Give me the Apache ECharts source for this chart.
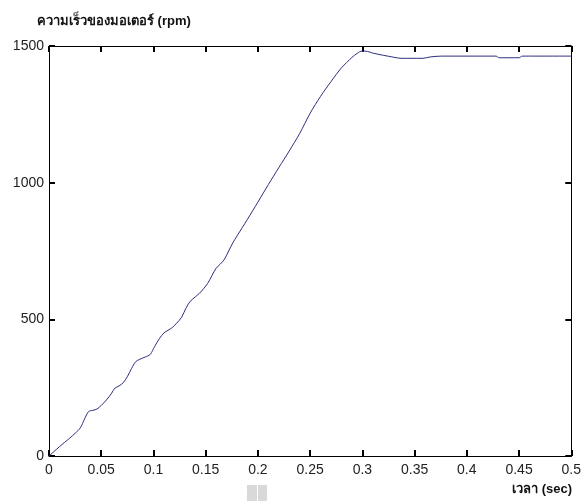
<!DOCTYPE html>
<html>
<head>
<meta charset="utf-8">
<script src="https://cdn.jsdelivr.net/npm/echarts@6/dist/echarts.min.js"></script>
<style>
  html, body { margin: 0; padding: 0; background: #fff; }
  #chart { width: 584px; height: 501px; }
</style>
</head>
<body>
<div id="chart"></div>
<script>
// Motor speed response (rpm) against time (s)
const timeSec = [
  0, 0.005, 0.010, 0.015, 0.020, 0.025, 0.030, 0.034, 0.038, 0.042, 0.046,
  0.050, 0.055, 0.060, 0.063, 0.067, 0.071, 0.075, 0.079, 0.083, 0.087,
  0.092, 0.097, 0.101, 0.106, 0.110, 0.114, 0.118, 0.122, 0.127, 0.131,
  0.135, 0.140, 0.144, 0.148, 0.152, 0.156, 0.160, 0.164, 0.168, 0.172,
  0.176, 0.180, 0.190, 0.200, 0.210, 0.220, 0.230, 0.240, 0.250, 0.260,
  0.270, 0.280, 0.290, 0.295, 0.300, 0.305, 0.310, 0.320, 0.330, 0.337,
  0.358, 0.365, 0.376, 0.428, 0.431, 0.450, 0.453, 0.500
];
const speedRpm = [
  0, 17, 34, 50, 66, 83, 103, 135, 163, 167, 172,
  185, 205, 230, 248, 256, 268, 290, 320, 345, 354,
  362, 372, 400, 431, 450, 460, 470, 485, 508, 540,
  565, 582, 595, 612, 632, 660, 687, 702, 720, 750,
  780, 805, 866, 929, 993, 1055, 1116, 1180, 1254, 1316,
  1370, 1420, 1458, 1473, 1482, 1480, 1474, 1466, 1459, 1455,
  1455, 1460, 1463, 1463, 1457, 1457, 1463, 1463
];
const xTicks = [0, 0.05, 0.1, 0.15, 0.2, 0.25, 0.3, 0.35, 0.4, 0.45, 0.5];
const yTicks = [0, 500, 1000, 1500];

const yTitle = 'ความเร็วของมอเตอร์ (rpm)';
const xTitle = 'เวลา (sec)';

const chart = echarts.init(document.getElementById('chart'));

const FONT = 'Liberation Sans, Arial, sans-serif';
const fmtX = v => String(+v.toFixed(2));
const fmtY = v => String(v);

// frame axes: black line, short ticks pointing into the plot
function frameAxis(extra) {
  return Object.assign({
    type: 'value',
    axisLine: { show: true, onZero: false, lineStyle: { color: '#000', width: 1 } },
    axisTick: { show: true, inside: true, length: 6, lineStyle: { color: '#000', width: 2 } },
    splitLine: { show: false }
  }, extra);
}

const xRange = { min: xTicks[0], max: xTicks[xTicks.length - 1], interval: 0.05 };
const yRange = { min: yTicks[0], max: yTicks[yTicks.length - 1], interval: 500 };

const points = timeSec.map((t, i) => [t, speedRpm[i]]);

chart.setOption({
  animation: false,
  title: [
    { text: yTitle, left: 32, top: 10, textStyle: { fontSize: 13, fontWeight: 'bold', color: '#111', fontFamily: FONT } },
    { text: xTitle, right: 7, top: 478, textStyle: { fontSize: 13, fontWeight: 'bold', color: '#111', fontFamily: FONT } }
  ],
  grid: { left: 49, right: 12, top: 46, bottom: 45 },
  xAxis: [
    frameAxis(Object.assign({
      position: 'bottom',
      axisLabel: { margin: 7, formatter: fmtX, color: '#222', fontSize: 14, fontFamily: FONT }
    }, xRange)),
    frameAxis(Object.assign({ position: 'top', axisLabel: { show: false } }, xRange))
  ],
  yAxis: [
    frameAxis(Object.assign({
      position: 'left',
      axisLabel: { margin: 5, formatter: fmtY, color: '#222', fontSize: 14, fontFamily: FONT }
    }, yRange)),
    frameAxis(Object.assign({ position: 'right', axisLabel: { show: false } }, yRange))
  ],
  series: [
    {
      type: 'line',
      xAxisIndex: 0, yAxisIndex: 0,
      data: points,
      showSymbol: false,
      smooth: 0.3,
      lineStyle: { color: '#2e2e80', width: 1 }
    },
    {
      // binds the top/right frame axes; the line itself is hidden
      type: 'line',
      xAxisIndex: 1, yAxisIndex: 1,
      data: points,
      showSymbol: false,
      silent: true,
      lineStyle: { opacity: 0 }
    }
  ],
  graphic: [
    { type: 'rect', shape: { x: 247, y: 485, width: 10, height: 16 }, style: { fill: '#d9d9d9' } },
    { type: 'rect', shape: { x: 258, y: 485, width: 9, height: 16 }, style: { fill: '#d9d9d9' } }
  ]
});
</script>
</body>
</html>
